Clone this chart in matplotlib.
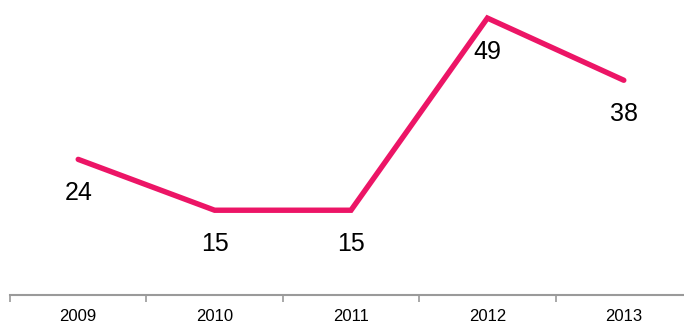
import matplotlib
matplotlib.use("Agg")
import matplotlib.pyplot as plt
from matplotlib import font_manager

years = ["2009", "2010", "2011", "2012", "2013"]
values = [24, 15, 15, 49, 38]

names = {f.name for f in font_manager.fontManager.ttflist}
family = "Liberation Sans Narrow" if "Liberation Sans Narrow" in names else "Liberation Sans"
plt.rcParams["font.family"] = [family, "DejaVu Sans"]

W, H, DPI = 684, 324, 100
fig = plt.figure(figsize=(W / DPI, H / DPI), dpi=DPI)
fig.patch.set_facecolor("white")

# axes spans slightly past the right edge so the last category keeps full width
left, right = 10 / W, 692 / W
bottom, top = (H - 295) / H, 1.0
ax = fig.add_axes([left, bottom, right - left, top - bottom])
ax.set_facecolor("none")

x = list(range(len(years)))
ax.plot(x, values, color="#EC1566", lw=3.9, solid_capstyle="round",
        solid_joinstyle="miter", zorder=3)

for xi, v in zip(x, values):
    ax.annotate(str(v), (xi, v), xytext=(0, -24.5), textcoords="offset points",
                ha="center", va="center", fontsize=18, color="black")

ax.set_xlim(-0.5, len(years) - 0.5)
ax.set_ylim(0, 52.2)

for s in ["top", "right", "left"]:
    ax.spines[s].set_visible(False)
ax.spines["bottom"].set_color("#9A9A9A")
ax.spines["bottom"].set_linewidth(1.5)

ax.set_yticks([])
ax.set_xticks([i - 0.5 for i in range(len(years) + 1)])
ax.set_xticklabels([])
ax.tick_params(axis="x", which="major", length=5, width=1.2, color="#9A9A9A",
               direction="out")
ax.set_xticks(x, minor=True)
ax.set_xticklabels(years, minor=True, fontsize=12, color="black")
ax.tick_params(axis="x", which="minor", length=0, pad=10)

fig.savefig("out.png", dpi=DPI)
